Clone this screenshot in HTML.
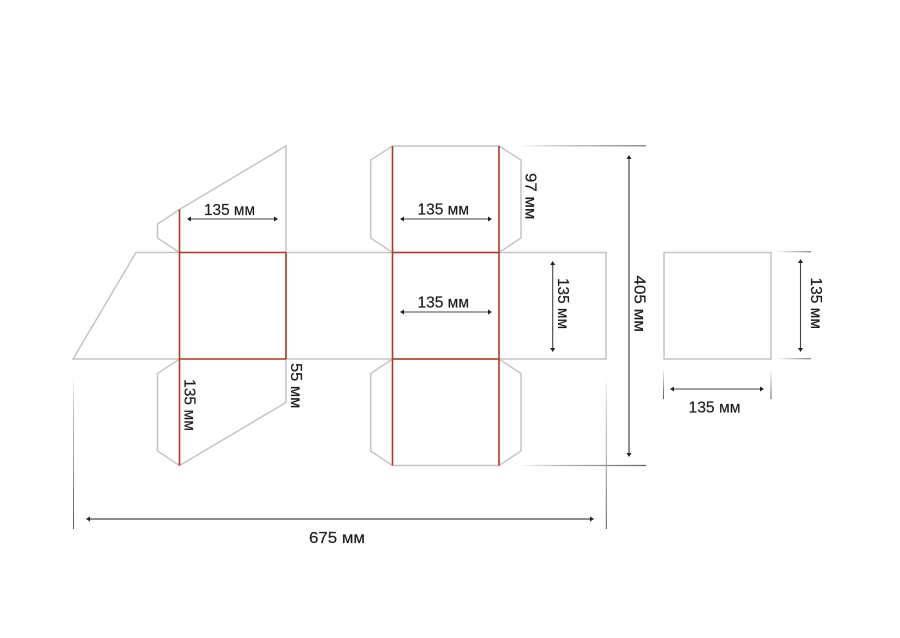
<!DOCTYPE html>
<html>
<head>
<meta charset="utf-8">
<style>
html,body{margin:0;padding:0;background:#fff;width:900px;height:638px;overflow:hidden}
svg{display:block}
text{font-family:"Liberation Sans","DejaVu Sans",sans-serif;font-size:16px;fill:#1c1c1c;stroke:#1c1c1c;stroke-width:.18}
.g{fill:none;stroke:#c4c4c4;stroke-width:1.5}
.r{fill:none;stroke:#ad3a20;stroke-width:1.6}
.a{stroke:#444;stroke-width:1.1;fill:none}
.b{stroke:#7c7c7c;stroke-width:1.7;fill:none}
.h{fill:#222;stroke:none}
</style>
</head>
<body>
<svg width="900" height="638" viewBox="0 0 900 638" xmlns="http://www.w3.org/2000/svg">
<defs>
<linearGradient id="gh1" gradientUnits="userSpaceOnUse" x1="520" y1="0" x2="646" y2="0"><stop offset="0" stop-color="#777" stop-opacity="0"/><stop offset=".45" stop-color="#aaa"/><stop offset="1" stop-color="#666"/></linearGradient>
<linearGradient id="gv1" gradientUnits="userSpaceOnUse" x1="0" y1="375" x2="0" y2="529"><stop offset="0" stop-color="#555" stop-opacity="0"/><stop offset=".5" stop-color="#aaa"/><stop offset="1" stop-color="#555"/></linearGradient>
<linearGradient id="gh2" gradientUnits="userSpaceOnUse" x1="775" y1="0" x2="811" y2="0"><stop offset="0" stop-color="#666" stop-opacity="0"/><stop offset="1" stop-color="#666"/></linearGradient>
<linearGradient id="gv2" gradientUnits="userSpaceOnUse" x1="0" y1="368" x2="0" y2="399"><stop offset="0" stop-color="#555" stop-opacity="0"/><stop offset="1" stop-color="#555"/></linearGradient>
</defs>

<!-- grey outlines -->
<path class="g" d="M179.5 252.5L136 252.5L73 359L179.5 359M286 252.5H606V359H286"/>
<path class="g" d="M179.5 209.5L286 146V252.5M179.5 209.5L157.5 224V238L179.5 252.5"/>
<path class="g" d="M179.5 359L157.5 373.5V451L179.5 465.5L286 402.5V359"/>
<path class="g" d="M392.5 146L370.7 160V238L392.5 252.5M392.5 146H499L521 160V238L499 252.5"/>
<path class="g" d="M392.5 359L370.7 373.5V451L392.5 465.5H499L521 451V373.5L499 359"/>
<rect class="g" x="664" y="252.500" width="107" height="106.500"/>

<!-- red fold lines -->
<path class="r" d="M179.5 209.5V465.5M286 252.5V359M179.5 252.5H286M179.5 359H286"/>
<path class="r" d="M392.5 146V465.5M499 146V465.5M392.5 252.5H499M392.5 359H499"/>

<!-- extension lines -->
<path d="M520 145.8H646" stroke="url(#gh1)" stroke-width="1.2" fill="none"/>
<path d="M520 465.5H646" stroke="url(#gh1)" stroke-width="1.2" fill="none"/>
<path d="M73.5 375V529" stroke="url(#gv1)" stroke-width="1" fill="none"/>
<path d="M606.3 375V529" stroke="url(#gv1)" stroke-width="1" fill="none"/>
<path d="M775 251.8H811" stroke="url(#gh2)" stroke-width="1" fill="none"/>
<path d="M775 358.8H811" stroke="url(#gh2)" stroke-width="1" fill="none"/>
<path d="M663.5 368V399" stroke="url(#gv2)" stroke-width="1" fill="none"/>
<path d="M771 368V399" stroke="url(#gv2)" stroke-width="1" fill="none"/>

<!-- arrows -->
<path class="a" d="M188 219H277"/>
<path class="h" d="M187 219l4-2.5v5zM278 219l-4-2.5v5z"/>
<path class="a" d="M401 219H491"/>
<path class="h" d="M400 219l4-2.500v5zM492 219l-4-2.500v5z"/>
<path class="a" d="M401 312H491"/>
<path class="h" d="M400 312l4-2.500v5zM492 312l-4-2.500v5z"/>
<path class="a" d="M552.7 262V351"/>
<path class="h" d="M552.7 261l-2.500 4h5zM552.7 352l-2.500-4h5z"/>
<path class="b" d="M629 157V455"/>
<path class="h" d="M629 155l-2.500 4h5zM629 457l-2.500-4h5z"/>
<path class="b" d="M88 519H592"/>
<path class="h" d="M86 519l4-2.500v5zM594 519l-4-2.500v5z"/>
<path class="a" d="M671 389H763"/>
<path class="h" d="M670 389l4-2.500v5zM764 389l-4-2.500v5z"/>
<path class="a" d="M800.5 261V351"/>
<path class="h" d="M800.5 259l-2.500 4h5zM800.5 352l-2.500-4h5z"/>

<!-- labels -->
<text x="204" y="215" textLength="51" lengthAdjust="spacingAndGlyphs">135 мм</text>
<text x="417.500" y="214.500" textLength="51.500" lengthAdjust="spacingAndGlyphs">135 мм</text>
<text x="417.500" y="307.500" textLength="51.500" lengthAdjust="spacingAndGlyphs">135 мм</text>
<text x="688.500" y="412.700" textLength="52" lengthAdjust="spacingAndGlyphs">135 мм</text>
<text x="309" y="543" textLength="56" lengthAdjust="spacingAndGlyphs">675 мм</text>
<text transform="translate(558 278) rotate(90)" textLength="51" lengthAdjust="spacingAndGlyphs">135 мм</text>
<text transform="translate(634.500 275.500) rotate(90)" textLength="56.500" lengthAdjust="spacingAndGlyphs">405 мм</text>
<text transform="translate(525.500 173) rotate(90)" textLength="46.500" lengthAdjust="spacingAndGlyphs">97 мм</text>
<text transform="translate(184.500 379) rotate(90)" textLength="52" lengthAdjust="spacingAndGlyphs">135 мм</text>
<text transform="translate(291 363) rotate(90)" textLength="45.500" lengthAdjust="spacingAndGlyphs">55 мм</text>
<text transform="translate(811 277.500) rotate(90)" textLength="51.500" lengthAdjust="spacingAndGlyphs">135 мм</text>
</svg>
</body>
</html>
